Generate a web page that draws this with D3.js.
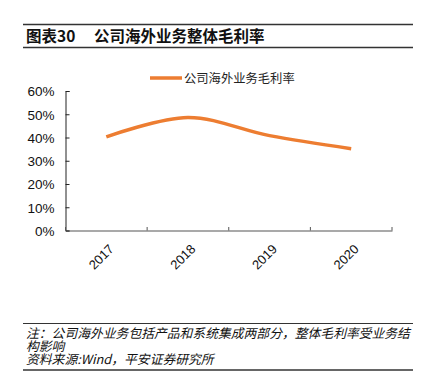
<!DOCTYPE html>
<html>
<head>
<meta charset="utf-8">
<script src="https://cdn.jsdelivr.net/npm/d3@7"></script>
<style>
  body { margin: 0; background: #fff; }
  svg { display: block; font-family: "Liberation Sans", Arial, "Noto Sans CJK SC", sans-serif; }
</style>
</head>
<body>
<svg id="chart" width="428" height="382"></svg>
<script>
// === DATA ===
const years = ["2017", "2018", "2019", "2020"];
const margins = [40.3, 48.6, 40.8, 35.2];
const yTicks = [0, 10, 20, 30, 40, 50, 60];
const seriesName = "公司海外业务毛利率";
const titleNo = "图表30";
const titleText = "公司海外业务整体毛利率";
const noteLines = [
  "注：公司海外业务包括产品和系统集成两部分，整体毛利率受业务结",
  "构影响",
  "资料来源:Wind，平安证券研究所"
];

const svg = d3.select("#chart");
const cjk = "'Noto Sans CJK SC', 'Liberation Sans', sans-serif";

// === HEADER ===
svg.append("line").attr("x1", 23).attr("x2", 413).attr("y1", 24.5).attr("y2", 24.5)
  .attr("stroke", "#333").attr("stroke-width", 1.5);
svg.append("line").attr("x1", 23).attr("x2", 413).attr("y1", 47.5).attr("y2", 47.5)
  .attr("stroke", "#333").attr("stroke-width", 1.5);
svg.append("text").attr("x", 26).attr("y", 42)
  .attr("font-family", cjk).attr("font-size", 15.5).attr("font-weight", "bold")
  .attr("fill", "#111").text(titleNo);
svg.append("text").attr("x", 94).attr("y", 42)
  .attr("font-family", cjk).attr("font-size", 15.5).attr("font-weight", "bold")
  .attr("fill", "#111").text(titleText);

// === PLOT ===
const x = d3.scaleBand().domain(years).range([65.5, 392]);
const y = d3.scaleLinear().domain([0, 60]).range([230.5, 91]);

// legend
svg.append("line").attr("x1", 150).attr("x2", 182).attr("y1", 78).attr("y2", 78)
  .attr("stroke", "#ED7D31").attr("stroke-width", 3.5);
svg.append("text").attr("x", 184).attr("y", 82.5)
  .attr("font-family", cjk).attr("font-size", 12.3).attr("fill", "#222").text(seriesName);

// y axis
const yAxis = svg.append("g").attr("transform", "translate(65.5,0)")
  .call(d3.axisRight(y).tickValues(yTicks).tickSize(4).tickFormat(d => d + "%"));
yAxis.select(".domain").attr("stroke", "#222");
yAxis.selectAll(".tick line").attr("stroke", "#222");
yAxis.selectAll(".tick text").attr("x", -11).attr("text-anchor", "end")
  .attr("font-size", 13.5).attr("fill", "#111").attr("dy", "0.36em");

// x axis
const xAxis = svg.append("g").attr("transform", "translate(0,230.5)")
  .call(d3.axisBottom(x).tickSize(0).tickSizeOuter(0));
xAxis.select(".domain").attr("stroke", "#555").attr("stroke-width", 1.2);
xAxis.selectAll(".tick text")
  .attr("font-size", 13).attr("fill", "#111")
  .attr("text-anchor", "end").attr("dy", "0.35em")
  .attr("transform", "translate(3,14) rotate(-45)");
// boundary ticks pointing up
const bounds = x.domain().map(d => x(d)).concat([x.range()[1]]);
svg.append("g").selectAll("line").data(bounds).join("line")
  .attr("x1", d => d).attr("x2", d => d)
  .attr("y1", 230.5).attr("y2", 227)
  .attr("stroke", "#555");

// series line
const line = d3.line()
  .x((d, i) => x(years[i]) + x.bandwidth() / 2)
  .y(d => y(d))
  .curve(d3.curveCatmullRom.alpha(0.5));
svg.append("path").datum(margins)
  .attr("d", line)
  .attr("fill", "none")
  .attr("stroke", "#ED7D31")
  .attr("stroke-width", 3.5)
  .attr("stroke-linecap", "butt");

// === FOOTER ===
svg.append("line").attr("x1", 23).attr("x2", 413).attr("y1", 323.5).attr("y2", 323.5)
  .attr("stroke", "#333").attr("stroke-width", 1.2);
svg.append("line").attr("x1", 23).attr("x2", 413).attr("y1", 370).attr("y2", 370)
  .attr("stroke", "#333").attr("stroke-width", 1.5);
svg.append("g").selectAll("text").data(noteLines).join("text")
  .attr("x", 26).attr("y", (d, i) => 337.5 + i * 13)
  .attr("font-family", cjk).attr("font-size", 12.8)
  .attr("font-style", "italic").attr("fill", "#111")
  .text(d => d);
</script>
</body>
</html>
